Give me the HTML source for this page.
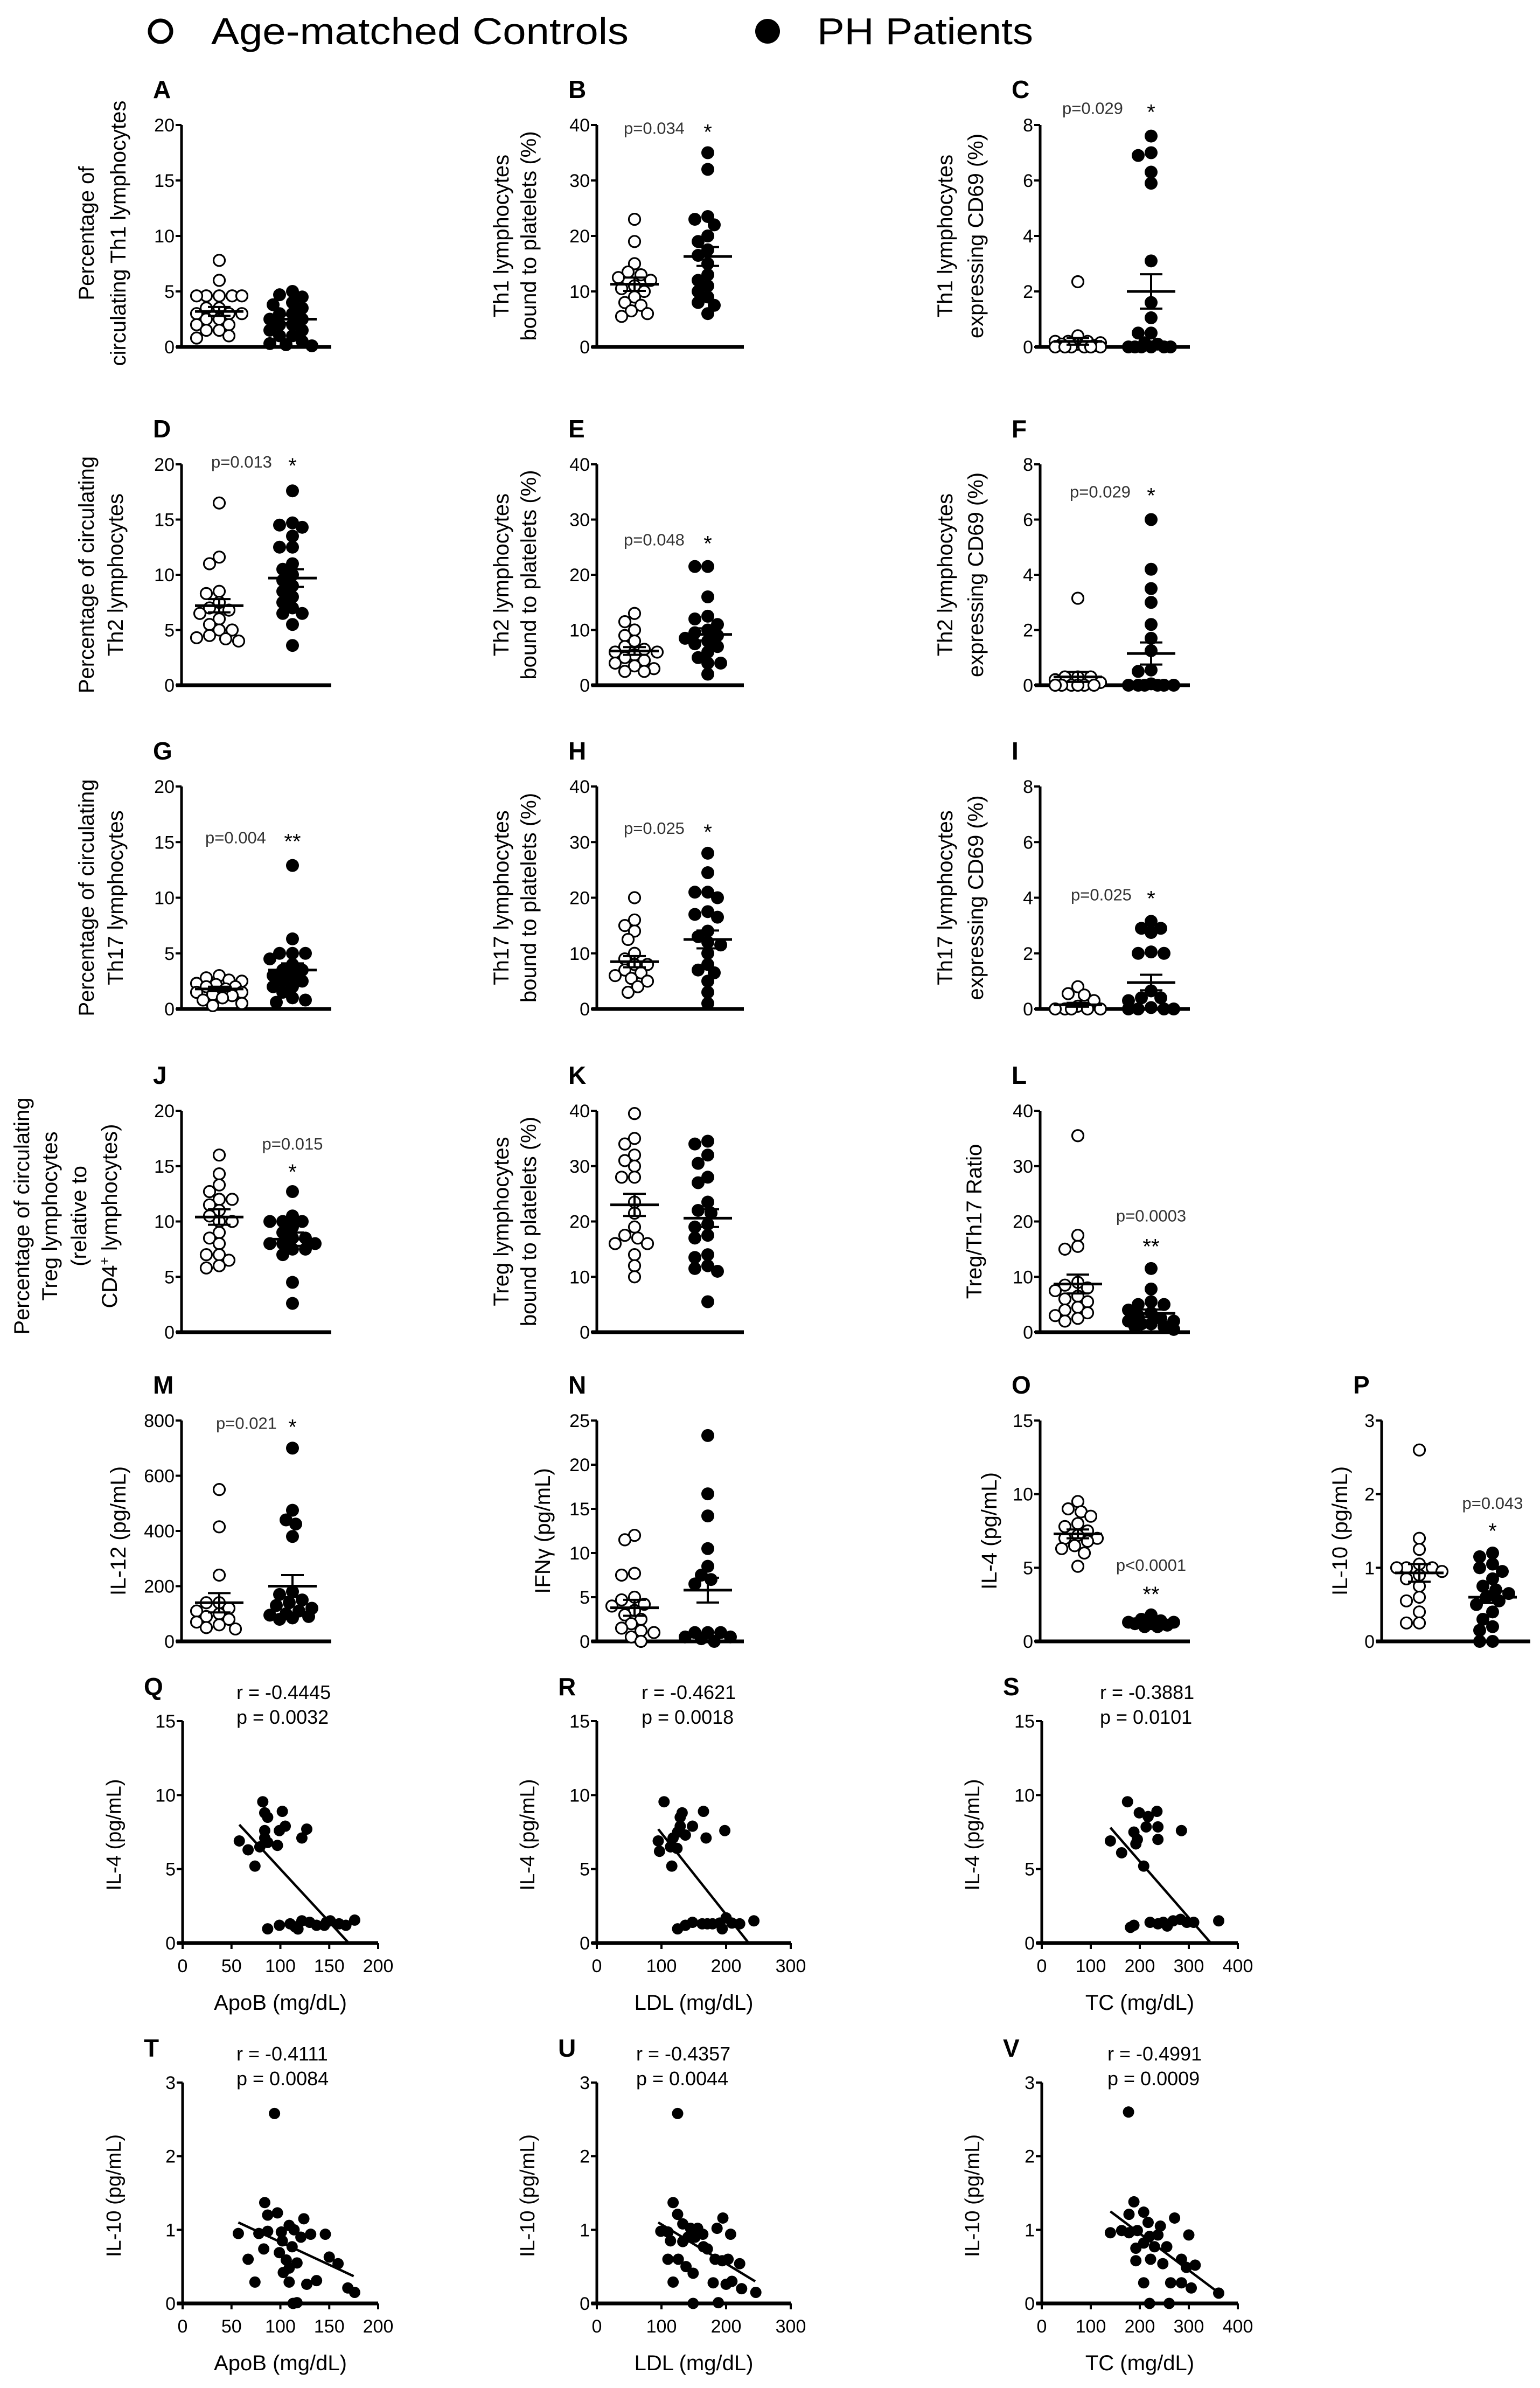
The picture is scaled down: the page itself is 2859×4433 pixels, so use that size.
<!DOCTYPE html>
<html><head><meta charset="utf-8"><title>Th lymphocytes figure</title>
<style>html,body{margin:0;padding:0;background:#fff}svg{display:block}text{font-family:"Liberation Sans",Arial,sans-serif}</style>
</head><body>
<svg id="fig" xmlns="http://www.w3.org/2000/svg" width="2859" height="4433" viewBox="0 0 2859 4433">
<rect width="2859" height="4433" fill="#fff"/>
<g>
<circle cx="298" cy="58" r="20" fill="none" stroke="#000" stroke-width="7"/>
<text x="392" y="82" font-size="70" textLength="775" lengthAdjust="spacingAndGlyphs">Age-matched Controls</text>
<circle cx="1425" cy="58" r="23" fill="#000"/>
<text x="1517" y="82" font-size="70" textLength="401" lengthAdjust="spacingAndGlyphs">PH Patients</text>
</g>
</svg>
<script>
// ---- dot plot data (control, patient, means, sems) ----
const aCtrl=[7.8,6,4.6,4.6,4.6,4.6,4.6,3.5,3.5,3,3,3,2.5,2.5,2,2,1.5,1.5,1,0.8];
const aPH=[5,4.7,4.5,4,3.8,3.5,3,3,2.5,2.5,2,2,1.5,1.5,1,1,0.5,0.3,0.2,0.1];
const aMean=[3.2,2.5]; const aSem=[0.4,0.35];
const bCtrl=[23,19,15,13.5,13,12.5,12,11,10.5,10,9,8,7.5,6.5,6,5.5];
const bPH=[35,32,23.5,23,22,20,19,17.5,16.5,15,13,12,11,10,9,8,7.5,6];
const bMean=[11.3,16.3]; const bSem=[1.2,1.7];
const cCtrl=[2.35,0.4,0.2,0.2,0.2,0.15,0.1,0.1,0.05,0,0,0,0,0,0];
const cPH=[7.6,7,6.9,6.3,5.9,3.1,1.6,1.05,0.5,0.5,0.15,0.1,0,0,0,0,0,0];
const cMean=[0.2,2.0]; const cSem=[0.12,0.62];
const dCtrl=[16.5,11.6,11,8.5,8.3,7.5,7,6.8,6.5,6,5.5,5,5,4.5,4.2,4,4.3];
const dPH=[17.6,14.7,14.3,14.5,13.5,12.5,12.5,11,10.5,10,9.5,9,8.5,8,7.5,7,6.5,6.5,5.5,3.6];
const dMean=[7.2,9.7]; const dSem=[0.6,0.8];
const eCtrl=[13,11.5,10,9,8,7,6.5,6,6,5.5,5,4.5,4,3.5,3,2.5,2.5];
const ePH=[21.5,21.5,16,12.5,12,11,10,9.5,9,8.5,8,7.5,7,6,5,4,4,2];
const eMean=[6.2,9.2]; const eSem=[0.7,1.1];
const fCtrl=[3.15,0.3,0.3,0.3,0.2,0.1,0,0,0,0,0,0];
const fPH=[6,4.2,3.5,3,2.2,1.7,1.25,0.55,0.5,0.05,0,0,0,0,0,0];
const fMean=[0.3,1.15]; const fSem=[0.18,0.4];
const gCtrl=[3,2.8,2.6,2.5,2.3,2.2,2,2,1.8,1.5,1.5,1.3,1.2,1,0.8,0.5,0.3];
const gPH=[12.9,6.3,5,5,5,4.5,4,3.5,3.5,3,3,2.5,2.5,2,2,1.5,1,0.8,0.6];
const gMean=[1.8,3.5]; const gSem=[0.2,0.6];
const hCtrl=[20,16,15,14,12.5,10,9,8,8,7,6.5,6,5.5,5,4,3];
const hPH=[28,24.5,21,21,20,17.5,17,16.5,14,13,12,11.5,10,8,7,6.5,5,3,1];
const hMean=[8.5,12.5]; const hSem=[1.0,1.6];
const iCtrl=[0.8,0.55,0.5,0.3,0.1,0,0,0,0,0];
const iPH=[3.15,2.9,2.75,2.9,2.05,2,2,0.65,0.4,0.4,0.3,0.05,0,0,0,0];
const iMean=[0.15,0.95]; const iSem=[0.07,0.28];
const jCtrl=[16,14.3,13.3,12.7,12,12,11.5,11,10.5,10,10,9,8.5,8,7,7,6.5,6,5.8];
const jPH=[12.7,10.5,10,10,10,9.5,9,8.5,8.5,8,8,8,7.5,7.5,7,4.5,2.6];
const jMean=[10.4,8.4]; const jSem=[0.7,0.6];
const kCtrl=[39.5,35,34,32,31,30,28,28,23.5,21.5,19,17.5,17,16,16,14,12,10];
const kPH=[34.5,34,32,30.5,28,27,23.5,22,21.5,19.5,19,17.5,17,14,13.5,12,11.5,11,5.5];
const kMean=[23,20.6]; const kSem=[2,1.6];
const lCtrl=[35.5,17.5,15.5,15,9,8.5,8,7.5,6.5,6,5.5,4.5,4,3.5,3,2.5,2];
const lPH=[11.5,7.8,5.5,5,5,4,3.5,3,2.5,2,2,1.5,1.5,1,1,0.5];
const lMean=[8.7,3.4]; const lSem=[1.7,0.7];
const mCtrl=[550,415,240,140,140,120,110,100,90,80,70,60,50,45];
const mPH=[700,475,440,425,380,180,170,150,140,130,120,110,100,95,90,85,80];
const mMean=[140,200]; const mSem=[35,40];
const nCtrl=[12,11.5,7.7,7.5,5,4.7,4.2,4,3.5,3,2.5,2,1.5,1.2,1,0.5,0];
const nPH=[23.3,16.7,14.2,10.5,8.5,7.5,7,6.5,1,1,1,0.5,0.5,0.3,0];
const nMean=[3.8,5.8]; const nSem=[0.9,1.4];
const oCtrl=[9.5,9,8.8,8.5,8,7.8,7.5,7.2,7,7,6.8,6.5,6.3,6,5.1];
const oPH=[1.8,1.5,1.4,1.3,1.3,1.2,1.2,1.1,1,1];
const oMean=[7.3,1.3]; const oSem=[0.3,0.06];
const pCtrl=[2.6,1.4,1.25,1.05,1,1,1,0.95,0.9,0.85,0.75,0.6,0.55,0.4,0.25,0.25];
const pPH=[1.2,1.15,1.05,1.0,0.95,0.85,0.75,0.7,0.65,0.6,0.55,0.5,0.4,0.3,0.2,0.15,0,0];
const pMean=[0.93,0.6]; const pSem=[0.12,0.08];
// ---- tick arrays ----
const ticks20=[0,5,10,15,20]; const ticks40=[0,10,20,30,40]; const ticks8=[0,2,4,6,8];
const ticks800=[0,200,400,600,800]; const ticks25=[0,5,10,15,20,25]; const ticks15=[0,5,10,15]; const ticks3=[0,1,2,3];
const xTicksApoB=[0,50,100,150,200]; const xTicksLDL=[0,100,200,300]; const xTicksTC=[0,100,200,300,400];
// ---- scatter data ----
const qX=[82,84,87,102,105,99,84,127,84,87,122,97,58,67,79,74,87,99,110,115,118,122,130,137,147,151,160,167,176,145];
const qY=[9.55,8.8,8.5,8.9,7.9,7.6,7.6,7.7,7.1,6.8,7.1,6.6,6.9,6.3,6.5,5.2,0.96,1.2,1.3,1.1,0.95,1.5,1.4,1.2,1.4,1.5,1.3,1.2,1.55,1.2];
const qLineX=[58,170]; const qLineY=[8.0,0];
const rX=[104,132,129,165,148,129,198,125,169,118,95,97,114,124,116,137,125,148,163,179,190,194,200,209,221,243,137,171];
const rY=[9.55,8.8,8.5,8.9,7.9,7.9,7.6,7.5,7.1,7.1,6.9,6.2,6.5,6.4,5.2,7.3,0.96,1.4,1.3,1.3,1.35,0.96,1.7,1.35,1.3,1.5,1.2,1.3];
const rLineX=[95,235]; const rLineY=[7.7,0];
const sX=[175,199,217,235,237,285,213,188,140,163,195,237,208,192,181,188,221,237,256,268,283,296,310,361,248];
const sY=[9.55,8.8,8.55,8.9,7.85,7.6,7.85,7.5,6.9,6.1,7.0,7.0,5.2,6.7,1.06,1.2,1.4,1.3,1.15,1.5,1.6,1.4,1.4,1.5,1.4];
const sLineX=[140,345]; const sLineY=[7.8,0];
const tX=[94,84,97,87,124,109,101,87,78,57,114,121,131,146,102,112,83,99,106,117,67,150,159,109,103,74,109,137,127,169,176,113,117];
const tY=[2.58,1.37,1.23,1.2,1.15,1.06,0.97,0.98,0.95,0.95,1.0,0.9,0.94,0.94,0.85,0.77,0.74,0.69,0.59,0.55,0.6,0.63,0.54,0.48,0.42,0.29,0.29,0.31,0.26,0.21,0.15,0,0.01];
const tLineX=[57,175]; const tLineY=[1.1,0.37];
const uX=[125,118,125,99,110,133,145,156,164,195,207,141,152,186,114,133,165,171,110,126,138,183,194,203,221,149,118,180,200,209,224,246,149,188];
const uY=[2.58,1.37,1.21,0.98,0.97,1.08,1.02,1.02,0.94,1.16,0.94,0.9,0.9,1.02,0.85,0.84,0.77,0.74,0.6,0.6,0.5,0.6,0.58,0.6,0.54,0.41,0.29,0.28,0.26,0.3,0.2,0.15,0,0.01];
const uLineX=[95,245]; const uLineY=[1.1,0.3];
const vX=[177,188,208,178,271,217,242,237,195,163,140,178,220,300,208,192,230,192,222,247,285,295,313,208,263,285,305,361,220,260,255];
const vY=[2.6,1.38,1.24,1.21,1.16,1.1,1.05,0.93,0.99,0.99,0.96,0.96,0.91,0.93,0.82,0.75,0.77,0.58,0.6,0.54,0.6,0.49,0.52,0.28,0.28,0.28,0.21,0.14,0,0,0.77];
const vLineX=[140,360]; const vLineY=[1.25,0.15];

const NS='http://www.w3.org/2000/svg';
const svg=document.getElementById('fig');
function mk(tag,attrs,parent,text){const e=document.createElementNS(NS,tag);for(const k in attrs)e.setAttribute(k,attrs[k]);if(text!==undefined)e.textContent=text;(parent||svg).appendChild(e);return e;}

function axes(g,ax,top,zero,w,ymax,ticks){
  const y=v=>zero-v/ymax*(zero-top);
  const yl=mk('line',{x1:ax,y1:top,x2:ax,y2:zero,stroke:'#000','stroke-width':5},g);
  
  
  const xl=mk('line',{x1:ax-10,y1:zero,x2:ax+w,y2:zero,stroke:'#000','stroke-width':7},g);
  
  
  ticks.forEach(t=>{
    const tk=mk('line',{x1:ax-11,y1:y(t),x2:ax,y2:y(t),stroke:'#000','stroke-width':4},g);
    
    
    const tl=mk('text',{x:ax-13,y:y(t)+12,'font-size':34,'text-anchor':'end'},g,String(t));
    
    
  });
  return y;
}
function ytitle(g,lines,xs,cy,fs){
  lines.forEach((ln,i)=>{
    const t=mk('text',{transform:`translate(${xs[i]+14},${cy}) rotate(-90)`,'font-size':fs||40,'text-anchor':'middle'},g);
    
    
    if(ln.indexOf('^+')>=0){const p=ln.split('^+');mk('tspan',{},t,p[0]);mk('tspan',{dy:-14,'font-size':26},t,'+');mk('tspan',{dy:14},t,p[1]);}
    else t.textContent=ln;
  });
}
function letter(g,x,y,L){
  const t=mk('text',{x:x,y:y,'font-size':46,'font-weight':'bold'},g,L);
  
  
}
function swarm(vals,cx,y,r){
  const placed=[];const out=[];
  const maxOff=46;
  const cands=[0];
  for(let k=1;k*6<=maxOff;k++){cands.push(-k*6);cands.push(k*6);}
  const sorted=vals.map((v,i)=>({v,i})).sort((a,b)=>b.v-a.v);
  sorted.forEach(o=>{
    const py=y(o.v);
    let best=null,bestD=-1;
    for(const off of cands){
      const px=cx+off;
      let md=1e9;placed.forEach(p=>{md=Math.min(md,Math.hypot(p[0]-px,p[1]-py));});
      if(md>=r*1.7){best=px;break;}
      if(md>bestD){bestD=md;best=px;}
    }
    placed.push([best,py]);out.push([best,py]);
  });
  return out;
}
function dotPanel(c){
  const g=mk('g',{});
  
  
  const y=axes(g,c.ax,c.top,c.zero,c.w,c.ymax,c.ticks);
  letter(g,c.ax-53,c.top-50,c.L);
  ytitle(g,c.title,c.tx,(c.top+c.zero)/2+(c.tdy||0),c.tfs);
  const cxs=[c.ax+70,c.ax+206];
  [c.ctrl,c.ph].forEach((vals,gi)=>{
    swarm(vals,cxs[gi],y,11.5).forEach(p=>{
      const d=mk('circle',{cx:p[0],cy:p[1],r:gi?12:10.5,fill:gi?'#000':'#fff',stroke:'#000','stroke-width':gi?0:3.2},g);
      
      
    });
  });
  [0,1].forEach(gi=>{
    const m=c.mean[gi],s=c.sem[gi],cx=cxs[gi];
    const ml=mk('line',{x1:cx-45,y1:y(m),x2:cx+45,y2:y(m),stroke:'#000','stroke-width':5},g);
    
    
    const eb=mk('path',{d:`M${cx},${y(m-s)}V${y(m+s)}M${cx-21},${y(m+s)}H${cx+21}M${cx-21},${y(m-s)}H${cx+21}`,stroke:'#000','stroke-width':4,fill:'none'},g);
    
    
  });
  if(c.p){
    if(c.pMode==='inline'){
      const pt=mk('text',{x:c.ax+c.px,y:y(c.pv),'font-size':31,fill:'#333'},g,c.p);
      
      
      const st=mk('text',{x:cxs[1],y:y(c.pv)+10,'font-size':40,'text-anchor':'middle'},g,c.star);
      
      
    } else {
      const pt=mk('text',{x:cxs[1],y:y(c.pv),'font-size':31,fill:'#333','text-anchor':'middle'},g,c.p);
      
      
      const st=mk('text',{x:cxs[1],y:y(c.sv)+16,'font-size':40,'text-anchor':'middle'},g,c.star);
      
      
    }
  }
}
const R1=[232,644],R2=[862,1272],R3=[1460,1873],R4=[2062,2473],R5=[2637,3047];
const A=337,B=1108,C=1931,P=2565;
const Lx=[160,219],Bx=[930,981],Cx=[1754,1811];
dotPanel({L:'A',ax:A,top:R1[0],zero:R1[1],w:278,ymax:20,ticks:ticks20,ctrl:aCtrl,ph:aPH,mean:aMean,sem:aSem,title:['Percentage of','circulating Th1 lymphocytes'],tx:Lx,tdy:-5});
dotPanel({L:'B',ax:B,top:R1[0],zero:R1[1],w:273,ymax:40,ticks:ticks40,ctrl:bCtrl,ph:bPH,mean:bMean,sem:bSem,title:['Th1 lymphocytes','bound to platelets (%)'],tx:Bx,p:'p=0.034',pMode:'inline',px:50,pv:38.4,star:'*'});
dotPanel({L:'C',ax:C,top:R1[0],zero:R1[1],w:278,ymax:8,ticks:ticks8,ctrl:cCtrl,ph:cPH,mean:cMean,sem:cSem,title:['Th1 lymphocytes','expressing CD69 (%)'],tx:Cx,p:'p=0.029',pMode:'inline',px:41,pv:8.4,star:'*'});
dotPanel({L:'D',ax:A,top:R2[0],zero:R2[1],w:278,ymax:20,ticks:ticks20,ctrl:dCtrl,ph:dPH,mean:dMean,sem:dSem,title:['Percentage of circulating','Th2  lymphocytes'],tx:[160,214],p:'p=0.013',pMode:'inline',px:55,pv:19.7,star:'*'});
dotPanel({L:'E',ax:B,top:R2[0],zero:R2[1],w:273,ymax:40,ticks:ticks40,ctrl:eCtrl,ph:ePH,mean:eMean,sem:eSem,title:['Th2 lymphocytes','bound to platelets (%)'],tx:Bx,p:'p=0.048',pMode:'inline',px:50,pv:25.3,star:'*'});
dotPanel({L:'F',ax:C,top:R2[0],zero:R2[1],w:278,ymax:8,ticks:ticks8,ctrl:fCtrl,ph:fPH,mean:fMean,sem:fSem,title:['Th2 lymphocytes','expressing CD69 (%)'],tx:Cx,p:'p=0.029',pMode:'inline',px:55,pv:6.8,star:'*'});
dotPanel({L:'G',ax:A,top:R3[0],zero:R3[1],w:278,ymax:20,ticks:ticks20,ctrl:gCtrl,ph:gPH,mean:gMean,sem:gSem,title:['Percentage of circulating','Th17 lymphocytes'],tx:[160,214],p:'p=0.004',pMode:'inline',px:44,pv:14.9,star:'**'});
dotPanel({L:'H',ax:B,top:R3[0],zero:R3[1],w:273,ymax:40,ticks:ticks40,ctrl:hCtrl,ph:hPH,mean:hMean,sem:hSem,title:['Th17 lymphocytes','bound to platelets (%)'],tx:Bx,p:'p=0.025',pMode:'inline',px:50,pv:31.5,star:'*'});
dotPanel({L:'I',ax:C,top:R3[0],zero:R3[1],w:278,ymax:8,ticks:ticks8,ctrl:iCtrl,ph:iPH,mean:iMean,sem:iSem,title:['Th17 lymphocytes','expressing CD69 (%)'],tx:Cx,p:'p=0.025',pMode:'inline',px:57,pv:3.9,star:'*'});
dotPanel({L:'J',ax:A,top:R4[0],zero:R4[1],w:278,ymax:20,ticks:ticks20,ctrl:jCtrl,ph:jPH,mean:jMean,sem:jSem,title:['Percentage of circulating','Treg lymphocytes','(relative to','CD4^+ lymphocytes)'],tx:[40,92,146,203],tdy:-10,p:'p=0.015',pMode:'stack',pv:16.5,sv:14.6,star:'*'});
dotPanel({L:'K',ax:B,top:R4[0],zero:R4[1],w:273,ymax:40,ticks:ticks40,ctrl:kCtrl,ph:kPH,mean:kMean,sem:kSem,title:['Treg lymphocytes','bound to platelets (%)'],tx:Bx});
dotPanel({L:'L',ax:C,top:R4[0],zero:R4[1],w:278,ymax:40,ticks:ticks40,ctrl:lCtrl,ph:lPH,mean:lMean,sem:lSem,title:['Treg/Th17 Ratio'],tx:[1808],p:'p=0.0003',pMode:'stack',pv:20,sv:15.7,star:'**'});
dotPanel({L:'M',ax:A,top:R5[0],zero:R5[1],w:278,ymax:800,ticks:ticks800,ctrl:mCtrl,ph:mPH,mean:mMean,sem:mSem,title:['IL-12 (pg/mL)'],tx:[219],p:'p=0.021',pMode:'inline',px:64,pv:770,star:'*'});
dotPanel({L:'N',ax:B,top:R5[0],zero:R5[1],w:273,ymax:25,ticks:ticks25,ctrl:nCtrl,ph:nPH,mean:nMean,sem:nSem,title:['IFNγ (pg/mL)'],tx:[1007]});
dotPanel({L:'O',ax:C,top:R5[0],zero:R5[1],w:278,ymax:15,ticks:ticks15,ctrl:oCtrl,ph:oPH,mean:oMean,sem:oSem,title:['IL-4 (pg/mL)'],tx:[1836],p:'p<0.0001',pMode:'stack',pv:4.8,sv:3.3,star:'**'});
dotPanel({L:'P',ax:P,top:R5[0],zero:R5[1],w:276,ymax:3,ticks:ticks3,ctrl:pCtrl,ph:pPH,mean:pMean,sem:pSem,title:['IL-10 (pg/mL)'],tx:[2487],p:'p=0.043',pMode:'stack',pv:1.8,sv:1.52,star:'*'});

function scatterPanel(c){
  const g=mk('g',{});
  
  
  const y=axes(g,c.ax,c.top,c.zero,c.w,c.ymax,c.ticks);
  const xmax=c.xt[c.xt.length-1];
  const x=v=>c.ax+v/xmax*c.w;
  c.xt.forEach(t=>{
    const tk=mk('line',{x1:x(t),y1:c.zero,x2:x(t),y2:c.zero+11,stroke:'#000','stroke-width':4},g);
    
    
    const tl=mk('text',{x:x(t),y:c.zero+54,'font-size':34,'text-anchor':'middle'},g,String(t));
    
    
  });
  const xt=mk('text',{x:c.ax+c.w*0.5,y:c.zero+124,'font-size':40,'text-anchor':'middle'},g,c.xlabel);
  
  
  letter(g,c.ax-72,c.top-48,c.L);
  ytitle(g,[c.ylabel],[c.tx],(c.top+c.zero)/2+5,38);
  const r1=mk('text',{x:c.ax+c.rx,y:c.top-41,'font-size':36},g,c.r);
  
  
  const p1=mk('text',{x:c.ax+c.rx,y:c.top+5,'font-size':36},g,c.p);
  
  
  c.xs.forEach((xv,i)=>{
    const d=mk('circle',{cx:x(xv),cy:y(c.ys[i]),r:10.5,fill:'#000'},g);
    
    
  });
  const ln=mk('line',{x1:x(c.lx[0]),y1:y(c.ly[0]),x2:x(c.lx[1]),y2:y(c.ly[1]),stroke:'#000','stroke-width':4.5},g);
  
  
}
const R6=[3195,3607],R7=[3866,4276];
scatterPanel({L:'Q',ax:339,top:R6[0],zero:R6[1],w:363,ymax:15,ticks:ticks15,xt:xTicksApoB,xs:qX,ys:qY,lx:qLineX,ly:qLineY,xlabel:'ApoB (mg/dL)',ylabel:'IL-4 (pg/mL)',tx:210,r:'r = -0.4445',p:'p = 0.0032',rx:100});
scatterPanel({L:'R',ax:1108,top:R6[0],zero:R6[1],w:360,ymax:15,ticks:ticks15,xt:xTicksLDL,xs:rX,ys:rY,lx:rLineX,ly:rLineY,xlabel:'LDL (mg/dL)',ylabel:'IL-4 (pg/mL)',tx:978,r:'r = -0.4621',p:'p = 0.0018',rx:83});
scatterPanel({L:'S',ax:1934,top:R6[0],zero:R6[1],w:364,ymax:15,ticks:ticks15,xt:xTicksTC,xs:sX,ys:sY,lx:sLineX,ly:sLineY,xlabel:'TC (mg/dL)',ylabel:'IL-4 (pg/mL)',tx:1804,r:'r = -0.3881',p:'p = 0.0101',rx:108});
scatterPanel({L:'T',ax:339,top:R7[0],zero:R7[1],w:363,ymax:3,ticks:ticks3,xt:xTicksApoB,xs:tX,ys:tY,lx:tLineX,ly:tLineY,xlabel:'ApoB (mg/dL)',ylabel:'IL-10 (pg/mL)',tx:210,r:'r = -0.4111',p:'p = 0.0084',rx:100});
scatterPanel({L:'U',ax:1108,top:R7[0],zero:R7[1],w:360,ymax:3,ticks:ticks3,xt:xTicksLDL,xs:uX,ys:uY,lx:uLineX,ly:uLineY,xlabel:'LDL (mg/dL)',ylabel:'IL-10 (pg/mL)',tx:978,r:'r = -0.4357',p:'p = 0.0044',rx:73});
scatterPanel({L:'V',ax:1934,top:R7[0],zero:R7[1],w:364,ymax:3,ticks:ticks3,xt:xTicksTC,xs:vX,ys:vY,lx:vLineX,ly:vLineY,xlabel:'TC (mg/dL)',ylabel:'IL-10 (pg/mL)',tx:1804,r:'r = -0.4991',p:'p = 0.0009',rx:122});
</script>
</body></html>
